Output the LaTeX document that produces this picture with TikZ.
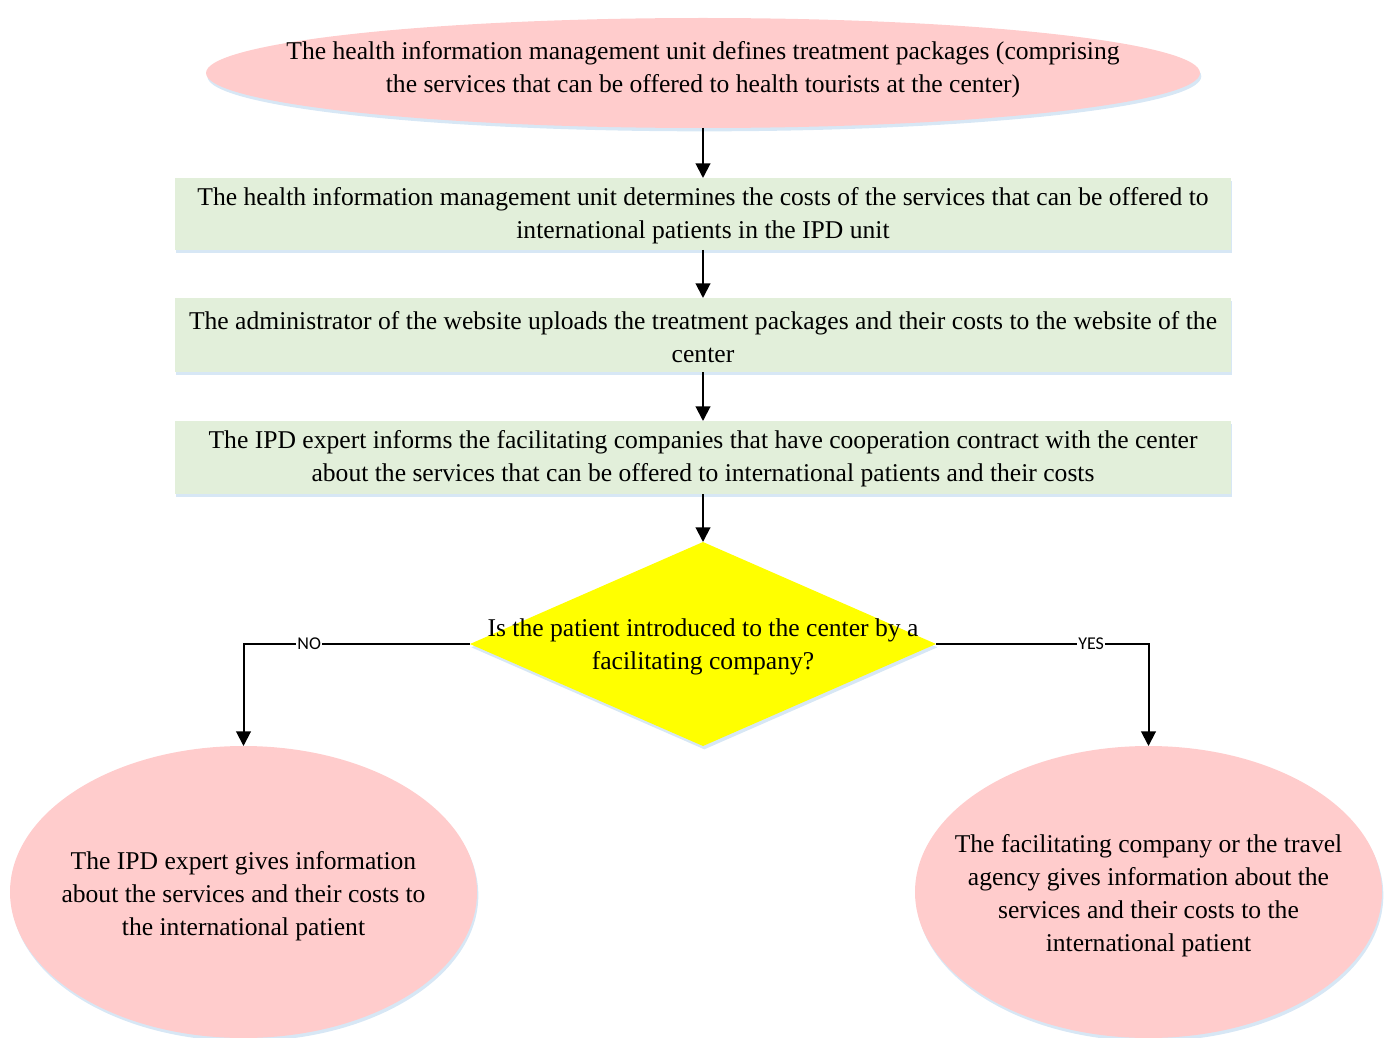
\documentclass[tikz,border=0pt]{standalone}
\usepackage{fontspec}
\setmainfont{Liberation Serif}
\newfontfamily\labelfont{Carlito}
\usetikzlibrary{shapes.geometric,arrows.meta,shadows}
\definecolor{pinkfill}{RGB}{255,204,204}
\definecolor{greenfill}{RGB}{226,239,218}
\definecolor{shadowblue}{RGB}{189,215,238}
\definecolor{decyellow}{RGB}{255,255,0}
\begin{document}
\begin{tikzpicture}[x=0.75pt,y=-0.75pt,
  shad/.style={drop shadow={fill=shadowblue,opacity=0.6,shadow xshift=1pt,shadow yshift=-2.5pt}},
  pinkell/.style={ellipse,fill=pinkfill,inner sep=0pt,outer sep=0pt,shad},
  greenbox/.style={rectangle,fill=greenfill,inner sep=0pt,outer sep=0pt,minimum width=792pt,shad},
  decision/.style={diamond,fill=decyellow,inner sep=0pt,outer sep=0pt,minimum width=349.5pt,minimum height=153pt,shad},
  txt/.style={align=center,font=\fontsize{19.2pt}{24.75pt}\selectfont,inner sep=0pt},
  conn/.style={line width=1.5pt,-{Triangle[width=11pt,length=11pt]}},
  lbl/.style={fill=white,inner sep=1pt,font=\labelfont\fontsize{13.5pt}{15pt}\selectfont}
]
\useasboundingbox (0,0) rectangle (1390,1038);

\node[pinkell,minimum width=745.5pt,minimum height=82.5pt] (e1) at (703,73) {};
\node[txt] (t1) at (703,70) {The health information management unit defines treatment packages (comprising\\the services that can be offered to health tourists at the center)};

\node[greenbox,minimum height=54pt] (b1) at (703,214) {};
\node[txt] (t2) at (703,216) {The health information management unit determines the costs of the services that can be offered to\\international patients in the IPD unit};

\node[greenbox,minimum height=55.5pt] (b2) at (703,335) {};
\node[txt] (t3) at (703,337) {The administrator of the website uploads the treatment packages and their costs to the website of the\\center};

\node[greenbox,minimum height=54.75pt] (b3) at (703,457.5) {};
\node[txt] (t4) at (703,459) {The IPD expert informs the facilitating companies that have cooperation contract with the center\\about the services that can be offered to international patients and their costs};

\node[decision] (d) at (703,644) {};
\node[txt] (t5) at (703,647) {Is the patient introduced to the center by a\\facilitating company?};

\node[pinkell,minimum width=350.25pt,minimum height=219pt] (e2) at (243.5,892) {};
\node[txt] (t6) at (243.5,896) {The IPD expert gives information\\about the services and their costs to\\the international patient};

\node[pinkell,minimum width=350.25pt,minimum height=219pt] (e3) at (1148.5,892) {};
\node[txt] (t7) at (1148.5,896) {The facilitating company or the travel\\agency gives information about the\\services and their costs to the\\international patient};

\draw[conn] (e1.south) -- (b1.north);
\draw[conn] (b1.south) -- (b2.north);
\draw[conn] (b2.south) -- (b3.north);
\draw[conn] (b3.south) -- (d.north);
\draw[conn] (d.west) -| node[lbl,pos=0.355] {NO} (e2.north);
\draw[conn] (d.east) -| node[lbl,pos=0.365] {YES} (e3.north);
\end{tikzpicture}
\end{document}
